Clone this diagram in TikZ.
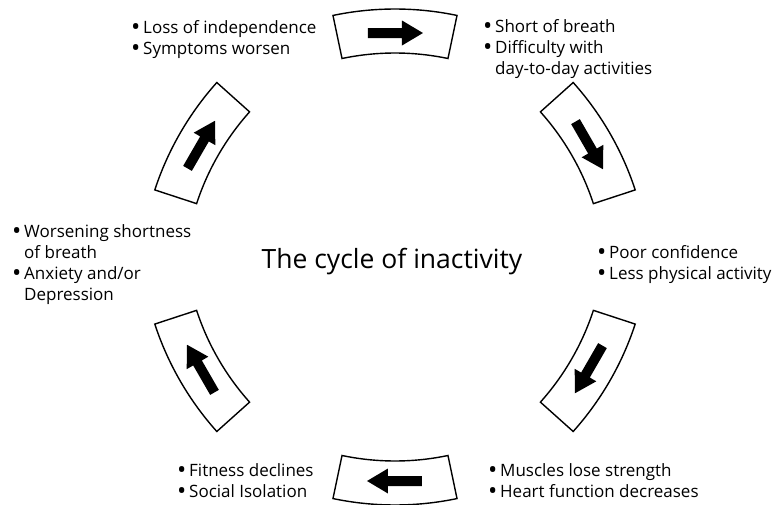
\documentclass[tikz,border=0pt]{standalone}
\usepackage{fontspec}
\setmainfont{Open Sans}

% bullet line and continuation line
\newcommand{\itm}{\makebox[12pt][l]{\raisebox{-0.12em}{\scalebox{1.45}{\textbullet}}}}
\newcommand{\cnt}{\hspace*{12pt}}

\begin{document}
\begin{tikzpicture}[x=1pt, y=1pt,
	note/.style={anchor=north west, align=left, inner sep=0pt,
		font=\fontsize{17}{21}\selectfont},
	stage/.style={draw, line width=1.4pt, fill=white, line join=miter}]
\def\R{224}   % radius of the cycle
\def\ro{302}  % outer arc of a box
\def\ri{258}  % inner arc of a box
\def\h{11.85} % half opening of a box
\useasboundingbox (-395, -247) rectangle (382, 257);
\foreach \a in {90, 30, -30, -90, -150, 150} {
	\begin{scope}[shift={(\a:\R)}, rotate=\a-90]
	\draw[stage] ([shift={(0,-278)}]90-\h:\ro)
		arc[start angle=90-\h, end angle=90+\h, radius=\ro]
		-- ([shift={(0,-278)}]90+\h:\ri)
		arc[start angle=90+\h, end angle=90-\h, radius=\ri] -- cycle;
	\fill (-27, -5) -- (7, -5) -- (7, -12.5) -- (28, 0)
		-- (7, 12.5) -- (7, 5) -- (-27, 5) -- cycle;
	\end{scope}
}
\node[anchor=base] (title) at (-3, -11)
	{\fontsize{26.5}{30}\selectfont The cycle of inactivity};
\node[note] (tl) at (-264, 237) {\itm Loss of independence\\\itm Symptoms worsen};
\node[note] (tr) at (88, 238)
	{\itm Short of breath\\\itm Difficulty with\\\cnt day-to-day activities};
\node[note] (rt) at (202, 12) {\itm Poor confidence\\\itm Less physical activity};
\node[note] (br) at (93, -206)
	{\itm Muscles lose strength\\\itm Heart function decreases};
\node[note] (bl) at (-218, -206) {\itm Fitness declines\\\itm Social Isolation};
\node[note] (lt) at (-383, 33)
	{\itm Worsening shortness\\\cnt of breath\\\itm Anxiety and/or\\\cnt Depression};
\end{tikzpicture}
\end{document}
